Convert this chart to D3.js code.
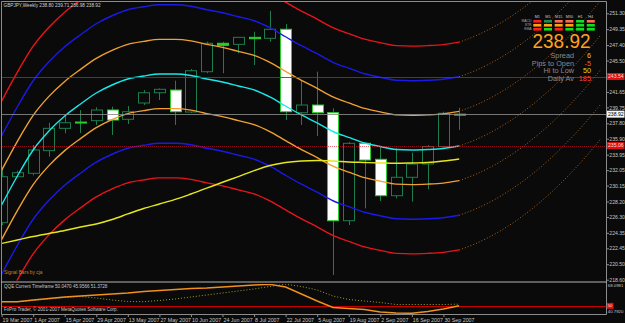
<!DOCTYPE html>
<html><head><meta charset="utf-8">
<script src="https://cdn.jsdelivr.net/npm/d3@7"></script>
<style>html,body{margin:0;padding:0;background:#0a0a0a;overflow:hidden}svg{display:block}text{font-family:"Liberation Sans",Arial,sans-serif}</style>
</head><body><svg id="c" width="625" height="323"></svg>
<script>
// ---------------- DATA ----------------
const chartTitle = "GBPJPY,Weekly 238.80 239.71 236.98 238.92";
const tickDates = ["19 Mar 2007","1 Apr 2007","15 Apr 2007","29 Apr 2007","13 May 2007","27 May 2007","10 Jun 2007","24 Jun 2007","8 Jul 2007","22 Jul 2007","5 Aug 2007","19 Aug 2007","2 Sep 2007","16 Sep 2007","30 Sep 2007"];
const tickBars = [0,2,4,6,8,10,12,14,16,18,20,22,24,26,28];
const priceTicks = [251.30,249.35,247.40,245.50,241.65,239.75,237.80,235.90,233.95,232.05,230.15,228.20,226.30,224.35,222.45,220.50,218.60];

const open  = [225.60,231.24,231.66,234.44,237.18,237.87,238.12,239.43,238.29,240.29,241.55,241.88,239.18,244.13,247.62,247.49,248.35,248.23,249.34,239.10,240.04,239.10,225.84,235.34,233.38,228.91,231.17,232.80,234.93,238.80];
const high  = [232.19,231.98,235.13,237.87,238.82,239.43,239.76,239.84,239.92,241.88,242.09,243.03,244.46,247.81,247.81,248.40,249.04,251.60,249.99,243.11,244.13,239.64,235.50,235.37,234.93,234.73,234.19,235.13,239.22,239.71];
const low   = [225.30,231.17,231.40,233.70,236.57,236.60,237.59,236.36,237.71,240.04,240.66,237.59,239.06,243.94,243.94,246.39,244.95,247.81,238.20,237.59,236.24,219.18,225.31,227.36,228.26,228.59,228.18,229.70,234.80,236.98];
const close = [231.24,231.73,234.52,237.18,237.87,237.95,239.43,238.20,239.22,241.55,241.97,239.22,244.25,247.62,247.37,248.35,248.18,249.34,239.22,240.04,239.10,225.84,235.34,233.29,228.91,231.17,232.80,234.93,239.03,238.92];

// channel lines (price)
const upper3 = [240.52,244.08,247.27,249.60,251.44,252.92,254.27,255.25,255.99,256.35,256.60,256.60,256.42,255.99,255.62,255.13,254.64,253.78,252.67,251.57,250.59,249.54,248.81,248.13,247.70,247.33,247.27,247.33,247.46,247.76];
const upper2 = [236.27,239.83,243.02,245.35,247.19,248.67,250.02,251.00,251.74,252.10,252.35,252.35,252.17,251.74,251.37,250.88,250.39,249.53,248.42,247.32,246.34,245.29,244.56,243.88,243.45,243.08,243.02,243.08,243.21,243.51];
const upper1 = [232.02,235.58,238.77,241.10,242.94,244.42,245.77,246.75,247.49,247.85,248.10,248.10,247.92,247.49,247.12,246.63,246.14,245.28,244.17,243.07,242.09,241.04,240.31,239.63,239.20,238.83,238.77,238.83,238.96,239.26];
const midLine = [227.77,231.33,234.52,236.85,238.69,240.17,241.52,242.50,243.24,243.60,243.85,243.85,243.67,243.24,242.87,242.38,241.89,241.03,239.92,238.82,237.84,236.79,236.06,235.38,234.95,234.58,234.52,234.58,234.71,235.01];
const lower1 = [223.52,227.08,230.27,232.60,234.44,235.92,237.27,238.25,238.99,239.35,239.60,239.60,239.42,238.99,238.62,238.13,237.64,236.78,235.67,234.57,233.59,232.54,231.81,231.13,230.70,230.33,230.27,230.33,230.46,230.76];
const lower2 = [219.27,222.83,226.02,228.35,230.19,231.67,233.02,234.00,234.74,235.10,235.35,235.35,235.17,234.74,234.37,233.88,233.39,232.53,231.42,230.32,229.34,228.29,227.56,226.88,226.45,226.08,226.02,226.08,226.21,226.51];
const lower3 = [215.02,218.58,221.77,224.10,225.94,227.42,228.77,229.75,230.49,230.85,231.10,231.10,230.92,230.49,230.12,229.63,229.14,228.28,227.17,226.07,225.09,224.04,223.31,222.63,222.20,221.83,221.77,221.83,221.96,222.26];
const maLine = [223.05,223.47,223.90,224.27,224.64,225.07,225.44,225.99,226.67,227.34,227.89,228.45,229.12,229.83,230.56,231.26,231.98,232.62,232.99,233.17,233.23,233.17,233.05,232.99,232.93,232.89,232.93,232.99,233.17,233.42];

// projected (dotted) continuation, from last bar onward
const projU3 = [247.76,248.50,249.43,250.56,251.88,253.41,255.12,257.04,259.15,261.46];
const projU2 = [243.51,244.25,245.18,246.31,247.63,249.16,250.87,252.79,254.90,257.21];
const projU1 = [239.26,240.00,240.93,242.06,243.38,244.91,246.62,248.54,250.65,252.96];
const projMid = [235.01,235.75,236.68,237.81,239.13,240.66,242.37,244.29,246.40,248.71];
const projL1 = [230.76,231.50,232.43,233.56,234.88,236.41,238.12,240.04,242.15,244.46];
const projL2 = [226.51,227.25,228.18,229.31,230.63,232.16,233.87,235.79,237.90,240.21];
const projL3 = [222.26,223.00,223.93,225.06,226.38,227.91,229.62,231.54,233.65,235.96];

// QQE sub window
const qqeLabel = "QQE Current Timeframe 50.0470 45.9566 51.3728";
const qqeRsi   = [53.30,53.30,54.64,55.83,57.02,57.81,58.60,59.39,60.18,61.37,62.16,62.96,63.75,64.14,64.93,65.73,66.52,67.07,64.93,59.39,53.85,48.71,47.92,47.13,45.15,44.35,44.12,45.54,47.52,50.05];
const qqeTrail = [53.30,53.30,54.25,55.44,56.62,57.41,56.23,54.64,53.46,53.30,54.25,55.44,57.02,58.60,60.18,61.77,63.35,65.33,67.07,65.33,62.56,57.81,55.04,53.85,52.67,51.08,51.08,51.08,51.08,51.37];
const qqeLevel = 50;
const qqeMax = 68.0981, qqeMin = 40.7920;

// price levels
const levelHigh = 243.54, levelCur = 238.92, levelLow = 235.06;

// info panel
const tfHeaders = ["M1","M5","M15","M30","H1","H4"];
const rowNames = ["MACD","STR","EMA"];
const signalGrid = [
  ["#ff1e1e","#1f8a55","#ff6a50","#ff6a50","#10e020","#ff6a50"],
  ["#ffa010","#ffa010","#ffa010","#ffa010","#10e020","#10e020"],
  ["#ff1e1e","#10e020","#ff1e1e","#10e020","#10e020","#10e020"]
];
const bigPrice = "238.92";
const infoLabels = ["Spread","Pips to Open","Hi to Low","Daily Av"];
const infoValues = ["6","-5","50","185"];
const infoColors = ["#f0c020","#ff5a1e","#e6d010","#ff4030"];

// ---------------- DRAW ----------------
const W = 625, H = 323;
const svg = d3.select("#c");
const axisX = 606.5, mainBottom = 280.5, subTop = 283, subBottom = 314.5;
const x = d3.scaleLinear().domain([0, 29]).range([1.6, 459.2]);
const y = d3.scaleLinear().domain([218.60, 251.30]).range([279.7, 13.3]);
const q = d3.scaleLinear().domain([qqeMin, qqeMax]).range([317.5, 283]);

svg.append("rect").attr("width", W).attr("height", H).attr("fill", "#0a0a0a");
const defs = svg.append("defs");
defs.append("clipPath").attr("id", "cm").append("rect").attr("x", 2).attr("y", 2).attr("width", axisX - 2).attr("height", mainBottom - 2);
defs.append("clipPath").attr("id", "cs").append("rect").attr("x", 2).attr("y", subTop + 1).attr("width", axisX - 2).attr("height", subBottom - subTop - 1.5);

const gm = svg.append("g").attr("clip-path", "url(#cm)");
const idx = d3.range(open.length);

// candles
const bullCol = "#1e7d4f", bearEdge = "#2ad02a";
gm.selectAll("line.wick").data(idx).join("line").attr("class", "wick")
  .attr("x1", i => Math.round(x(i)) + 0.5).attr("x2", i => Math.round(x(i)) + 0.5)
  .attr("y1", i => y(high[i])).attr("y2", i => y(low[i]))
  .attr("stroke", bullCol).attr("stroke-width", 1);
gm.selectAll("rect.body").data(idx).join("rect").attr("class", "body")
  .attr("x", i => Math.round(x(i) - 5.5) + 0.5).attr("width", 11)
  .attr("y", i => y(Math.max(open[i], close[i])))
  .attr("height", i => Math.max(1, Math.abs(y(open[i]) - y(close[i]))))
  .attr("fill", i => Math.abs(open[i] - close[i]) < 0.3 ? bearEdge : (close[i] < open[i] ? "#ffffff" : "#0a0a0a"))
  .attr("stroke", i => (close[i] < open[i] || Math.abs(open[i] - close[i]) < 0.3) ? bearEdge : bullCol)
  .attr("stroke-width", 1);

// channel lines
const line = d3.line().x((d, i) => x(i)).y(d => y(d)).curve(d3.curveMonotoneX);
const pline = d3.line().x((d, k) => x(29 + k)).y(d => y(d)).curve(d3.curveMonotoneX);
const series = [
  [upper3, "#e8141c", projU3], [upper2, "#1a1ae6", projU2], [upper1, "#f0a030", projU1],
  [midLine, "#1ae8e8", projMid], [lower1, "#f0a030", projL1], [lower2, "#1a1ae6", projL2],
  [lower3, "#e8141c", projL3], [maLine, "#e6e61e", null]
];
series.forEach(([vals, col, proj]) => {
  if (proj) gm.append("path").attr("d", pline(proj)).attr("fill", "none")
    .attr("stroke", "#a8601c").attr("stroke-width", 1).attr("stroke-dasharray", "1,2");
  gm.append("path").attr("d", line(vals)).attr("fill", "none").attr("stroke", col).attr("stroke-width", 1.4);
});

// level lines
gm.append("line").attr("x1", 0).attr("x2", axisX).attr("y1", Math.round(y(levelHigh)) + 0.5).attr("y2", Math.round(y(levelHigh)) + 0.5)
  .attr("stroke", "#c0103c").attr("stroke-width", 1).attr("opacity", 0.85);
gm.append("line").attr("x1", 0).attr("x2", axisX).attr("y1", Math.round(y(levelCur)) + 0.5).attr("y2", Math.round(y(levelCur)) + 0.5)
  .attr("stroke", "#8a8a8a").attr("stroke-width", 1).attr("opacity", 0.85);
gm.append("line").attr("x1", 0).attr("x2", axisX).attr("y1", Math.round(y(levelLow)) + 0.5).attr("y2", Math.round(y(levelLow)) + 0.5)
  .attr("stroke", "#e01020").attr("stroke-width", 1).attr("stroke-dasharray", "1,1").attr("opacity", 0.6);

// frame
const frame = svg.append("g").attr("stroke", "#8c8c8c").attr("stroke-width", 1).attr("fill", "none");
frame.append("line").attr("x1", 1.5).attr("x2", axisX).attr("y1", 1.5).attr("y2", 1.5);
frame.append("line").attr("x1", 1.5).attr("x2", 1.5).attr("y1", 1.5).attr("y2", subBottom);
frame.append("line").attr("x1", axisX).attr("x2", axisX).attr("y1", 1.5).attr("y2", subBottom);
frame.append("line").attr("x1", 1.5).attr("x2", axisX).attr("y1", subBottom).attr("y2", subBottom);
svg.append("line").attr("x1", 1.5).attr("x2", axisX).attr("y1", 282).attr("y2", 282)
  .attr("stroke", "#b4b4b4").attr("stroke-width", 2).attr("stroke-dasharray", "1,1");

// price axis
const ya = svg.append("g").attr("transform", `translate(${axisX},0)`)
  .call(d3.axisRight(y).tickValues(priceTicks).tickSize(2.5).tickSizeOuter(0).tickFormat(d3.format(".2f")));
ya.select(".domain").remove();
ya.selectAll("line").attr("stroke", "#8c8c8c");
ya.selectAll("text").attr("fill", "#c8c8c8").attr("font-size", 5.1).attr("x", 2.8).attr("font-family", "Liberation Sans, Arial, sans-serif");

function axisBox(val, ys, fill, tcol, w) {
  const g = svg.append("g");
  g.append("rect").attr("x", axisX + 0.5).attr("y", ys - 3.5).attr("width", w).attr("height", 7).attr("fill", fill);
  g.append("text").attr("x", axisX + 1.5).attr("y", ys).attr("dy", "0.35em").attr("font-size", 5.1).attr("fill", tcol).text(val);
}
axisBox(levelHigh.toFixed(2), y(levelHigh), "#e01010", "#ffd8d8", 17.5);
axisBox(levelCur.toFixed(2), y(levelCur), "#f4f4f4", "#000000", 17.5);
axisBox(levelLow.toFixed(2), y(levelLow), "#e01010", "#ffd8d8", 17.5);

// time axis
const xa = svg.append("g").attr("transform", `translate(0,${subBottom})`)
  .call(d3.axisBottom(x).tickValues(tickBars).tickSize(2.5).tickSizeOuter(0).tickFormat((d, i) => tickDates[i]));
xa.select(".domain").remove();
xa.selectAll("line").attr("stroke", "#8c8c8c");
xa.selectAll("text").attr("fill", "#c8c8c8").attr("font-size", 5.3).attr("text-anchor", "start").attr("x", 0.5).attr("y", 3).attr("dy", "0.8em")
  .attr("font-family", "Liberation Sans, Arial, sans-serif");

// QQE sub-window
const gs = svg.append("g").attr("clip-path", "url(#cs)");
gs.append("line").attr("x1", 0).attr("x2", axisX).attr("y1", Math.round(q(qqeLevel)) + 0.5).attr("y2", Math.round(q(qqeLevel)) + 0.5)
  .attr("stroke", "#c80000").attr("stroke-width", 1.2);
const qline = d3.line().x((d, i) => x(i)).y(d => q(d));
gs.append("path").attr("d", qline(qqeTrail)).attr("fill", "none").attr("stroke", "#a8a020").attr("stroke-width", 1).attr("stroke-dasharray", "1,2");
gs.append("path").attr("d", qline(qqeRsi)).attr("fill", "none").attr("stroke", "#f0901e").attr("stroke-width", 1.4);
svg.append("text").attr("x", 4).attr("y", 287.8).attr("font-size", 4.6).attr("fill", "#c8c8c8").text(qqeLabel);
svg.append("text").attr("x", 4).attr("y", 311.2).attr("font-size", 4.6).attr("fill", "#c8c8c8").text("FxPro Trader, © 2001-2007 MetaQuotes Software Corp.");
svg.append("text").attr("x", axisX + 1.3).attr("y", 285.5).attr("dy", "0.35em").attr("font-size", 4.3).attr("fill", "#c8c8c8").text(qqeMax.toFixed(4));
svg.append("text").attr("x", axisX + 1.3).attr("y", 311.6).attr("dy", "0.35em").attr("font-size", 4.3).attr("fill", "#c8c8c8").text(qqeMin.toFixed(4));
svg.append("rect").attr("x", axisX + 0.5).attr("y", q(qqeLevel) - 3).attr("width", 6.5).attr("height", 6).attr("fill", "#e01010");
svg.append("text").attr("x", axisX + 1.2).attr("y", q(qqeLevel)).attr("dy", "0.35em").attr("font-size", 4.2).attr("fill", "#ffd8d8").text(String(qqeLevel));

// texts on main panel
svg.append("text").attr("x", 3.5).attr("y", 7).attr("font-size", 4.7).attr("fill", "#d0d0d0").text(chartTitle);
svg.append("text").attr("x", 4).attr("y", 274).attr("font-size", 4.8).attr("fill", "#d08020").text("Signal Bars by cja");

// signal grid
const colX = d3.range(6).map(i => 533.3 + i * 10.7);
svg.selectAll("text.tf").data(tfHeaders).join("text").attr("class", "tf")
  .attr("x", (d, i) => colX[i] + 4).attr("y", 17.5).attr("text-anchor", "middle").attr("font-size", 3.8).attr("fill", "#c8c8c8").text(d => d);
svg.selectAll("text.rn").data(rowNames).join("text").attr("class", "rn")
  .attr("x", 531.5).attr("y", (d, r) => 22.4 + r * 4).attr("text-anchor", "end").attr("font-size", 3.4).attr("fill", "#a8a8a8").text(d => d);
signalGrid.forEach((row, r) => row.forEach((col, c) => {
  svg.append("rect").attr("x", colX[c]).attr("y", 20 + r * 4).attr("width", 8).attr("height", 2.6).attr("fill", col);
}));
svg.append("text").attr("x", 532.5).attr("y", 48.3).attr("font-size", 20.5).attr("fill", "#ffa020")
  .attr("textLength", 58).attr("lengthAdjust", "spacingAndGlyphs").text(bigPrice);
infoLabels.forEach((t, i) => {
  const by = 58.3 + i * 7.5;
  svg.append("text").attr("x", 574).attr("y", by).attr("text-anchor", "end").attr("font-size", 7.3).attr("fill", "#8a8a8a").text(t);
  svg.append("text").attr("x", 591).attr("y", by).attr("text-anchor", "end").attr("font-size", 7.3).attr("fill", infoColors[i]).text(infoValues[i]);
});
</script>
</body></html>
